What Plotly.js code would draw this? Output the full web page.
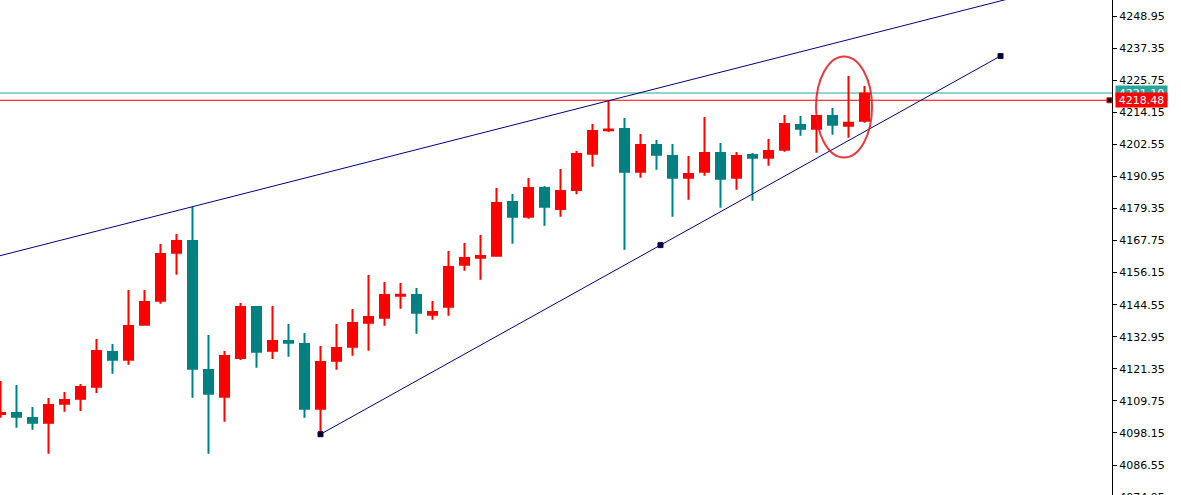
<!DOCTYPE html>
<html>
<head>
<meta charset="utf-8">
<script src="https://cdn.plot.ly/plotly-3.0.1.min.js"></script>
<style>
html,body{margin:0;padding:0;background:#fff;overflow:hidden;}
#chart{width:1181px;height:510px;}
</style>
</head>
<body>
<div id="chart"></div>
<script>
// ---- data (candle index, OHLC) ----
const opens  = [4105.00,4105.36,4103.55,4101.85,4108.72,4110.53,4114.87,4127.42,4124.64,4137.30,
                4145.98,4163.34,4167.57,4120.91,4111.26,4125.25,4143.70,4127.89,4131.40,4130.32,
                4106.91,4124.28,4129.34,4138.02,4139.83,4147.80,4148.04,4140.91,4143.81,4159.00,
                4161.53,4162.25,4181.68,4176.36,4186.74,4179.14,4186.02,4199.15,4207.60,4208.08,
                4192.64,4202.29,4198.31,4190.46,4192.64,4199.40,4190.46,4198.68,4197.70,4200.59,
                4209.53,4208.19,4212.78,4209.27,4211.08];
const highs  = [4116.93,4115.49,4107.53,4110.78,4112.95,4115.85,4132.12,4130.32,4149.85,4149.85,
                4166.48,4170.10,4179.98,4133.57,4127.78,4145.15,4144.06,4144.06,4137.55,4134.29,
                4129.59,4137.55,4142.98,4155.27,4152.74,4152.38,4150.57,4145.87,4163.95,4166.85,
                4169.74,4186.74,4184.57,4190.36,4187.46,4193.61,4200.12,4209.89,4218.30,4212.06,
                4206.27,4204.10,4202.65,4198.31,4212.42,4203.02,4199.76,4199.40,4204.46,4213.14,
                4212.78,4213.14,4215.67,4227.25,4223.63];
const lows   = [4103.66,4100.04,4099.32,4090.64,4105.83,4106.08,4112.59,4119.57,4122.83,4136.94,
                4144.89,4155.38,4110.89,4090.64,4102.21,4124.53,4121.74,4124.89,4125.72,4103.66,
                4097.69,4121.02,4126.08,4127.89,4136.94,4143.08,4134.04,4139.10,4140.55,4156.83,
                4153.57,4161.89,4166.59,4175.64,4173.10,4176.36,4184.46,4194.44,4206.99,4164.42,
                4190.46,4193.36,4176.36,4182.51,4191.19,4179.61,4186.12,4182.15,4194.81,4199.87,
                4205.66,4199.51,4206.02,4204.93,4210.36];
const closes = [4105.36,4104.02,4101.85,4108.25,4110.06,4114.76,4127.78,4124.64,4136.83,4145.51,
                4162.87,4167.57,4121.38,4112.34,4125.98,4143.70,4127.53,4131.40,4130.78,4106.91,
                4123.81,4128.87,4137.91,4140.08,4148.04,4148.15,4141.64,4141.89,4158.17,4161.42,
                4162.14,4181.31,4176.36,4186.74,4179.98,4185.65,4199.04,4207.36,4207.90,4192.64,
                4202.29,4198.78,4190.46,4191.80,4199.40,4190.10,4198.31,4197.70,4200.12,4209.89,
                4208.19,4212.78,4209.63,4210.36,4220.90];

// price axis tick labels
const yTicks = [4074.95,4086.55,4098.15,4109.75,4121.35,4132.95,4144.55,4156.15,4167.75,
                4179.35,4190.95,4202.55,4214.15,4225.75,4237.35,4248.95];

// trend line anchors (candle index, price)
const upperLineIdx   = [12, 38];
const upperLinePrice = [4179.98, 4218.30];
const lowerLineIdx   = [20, 62.5];
const lowerLinePrice = [4097.69, 4234.48];

// horizontal price lines
const priceLevels = [4221.10, 4218.48];
const priceLabels = ['4221.10', '4218.48'];

// highlighted zone (ellipse) in candle index / price
const zoneIdx   = [50.97, 54.47];
const zonePrice = [4197.77, 4234.31];

// ---- build ----
const xIdx = opens.map((_, i) => i);
const xRange = [-0.03125, 69.46875];
const yRange = [4070.28, 4254.74];

const RED = '#ff0000', TEAL = '#008080', NAVY = '#000080', LTEAL = '#26a69a';

function extend(idx, price, x0, x1) {
  const s = (price[1] - price[0]) / (idx[1] - idx[0]);
  return {x: [x0, x1], y: [price[0] + s * (x0 - idx[0]), price[0] + s * (x1 - idx[0])]};
}
const up = extend(upperLineIdx, upperLinePrice, xRange[0], xRange[1]);

const traces = [
  {
    type: 'candlestick', x: xIdx, open: opens, high: highs, low: lows, close: closes,
    increasing: {line: {color: RED, width: 2}, fillcolor: RED},
    decreasing: {line: {color: TEAL, width: 2}, fillcolor: TEAL},
    whiskerwidth: 0, showlegend: false, hoverinfo: 'skip'
  },
  {
    type: 'scatter', mode: 'lines', x: up.x, y: up.y,
    line: {color: NAVY, width: 1}, showlegend: false, hoverinfo: 'skip'
  },
  {
    type: 'scatter', mode: 'lines+markers',
    x: [lowerLineIdx[0], (lowerLineIdx[0] + lowerLineIdx[1]) / 2, lowerLineIdx[1]],
    y: [lowerLinePrice[0], (lowerLinePrice[0] + lowerLinePrice[1]) / 2, lowerLinePrice[1]],
    line: {color: NAVY, width: 1},
    marker: {symbol: 'square', size: 5, color: '#000000', line: {color: NAVY, width: 1}},
    showlegend: false, hoverinfo: 'skip'
  },
  {
    type: 'scatter', mode: 'markers', x: [xRange[1] - 0.16], y: [priceLevels[1]],
    marker: {symbol: 'square', size: 5, color: '#000000', line: {color: RED, width: 1}},
    showlegend: false, hoverinfo: 'skip', cliponaxis: false
  }
];

const shapes = [
  {type: 'line', xref: 'paper', yref: 'y', x0: 0, x1: 1, y0: priceLevels[0], y1: priceLevels[0],
   line: {color: LTEAL, width: 1}, layer: 'below'},
  {type: 'line', xref: 'paper', yref: 'y', x0: 0, x1: 0.997, y0: priceLevels[1], y1: priceLevels[1],
   line: {color: RED, width: 1}, layer: 'below'},
  {type: 'circle', xref: 'x', yref: 'y', x0: zoneIdx[0], x1: zoneIdx[1], y0: zonePrice[0], y1: zonePrice[1],
   line: {color: 'rgba(230,20,30,0.85)', width: 2}, fillcolor: 'rgba(0,0,0,0)'}
];

const annColors = [LTEAL, RED];
const annotations = priceLevels.map((p, i) => ({
  xref: 'paper', yref: 'y', x: 1, y: p, xanchor: 'left', yanchor: 'middle',
  xshift: 3, text: priceLabels[i], showarrow: false,
  bgcolor: annColors[i], font: {family: 'DejaVu Sans', size: 11, color: '#ffffff'},
  width: 49, height: 12, borderpad: 1, align: 'center'
}));

const layout = {
  width: 1181, height: 510,
  margin: {l: 0, r: 69, t: 0, b: 0, pad: 0},
  paper_bgcolor: '#ffffff', plot_bgcolor: '#ffffff',
  showlegend: false, boxgap: 0.4375, boxgroupgap: 0,
  xaxis: {range: xRange, visible: false, rangeslider: {visible: false}, fixedrange: true},
  yaxis: {
    range: yRange, side: 'right', showgrid: false, zeroline: false,
    showline: true, linecolor: '#000000', linewidth: 1,
    ticks: 'outside', ticklen: 4, tickcolor: '#000000', tickwidth: 1,
    tickvals: yTicks, ticktext: yTicks.map(v => v.toFixed(2)),
    tickfont: {family: 'DejaVu Sans', size: 11, color: '#000000'},
    fixedrange: true
  },
  shapes: shapes,
  annotations: annotations
};

Plotly.newPlot('chart', traces, layout, {displayModeBar: false, staticPlot: true});
</script>
</body>
</html>
